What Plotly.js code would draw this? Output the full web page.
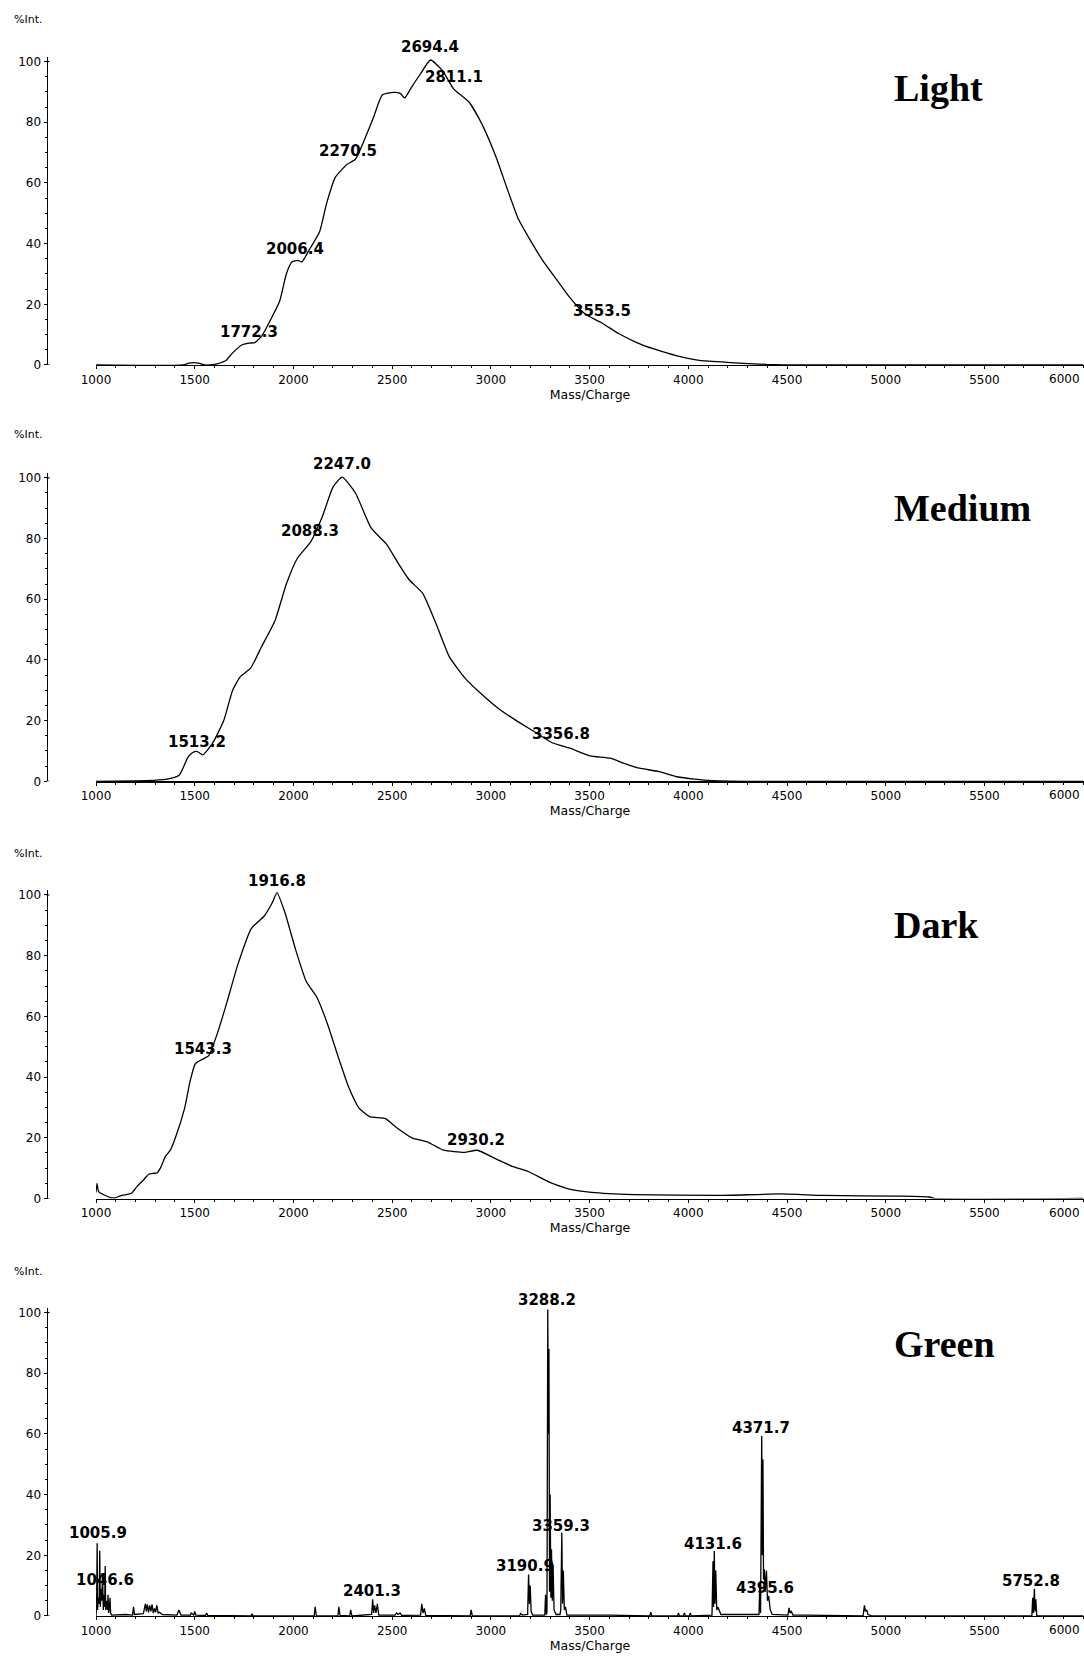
<!DOCTYPE html>
<html>
<head>
<meta charset="utf-8">
<script src="https://cdn.plot.ly/plotly-3.0.1.min.js"></script>
<style>html,body{margin:0;padding:0;background:#fff;}#chart{width:1084px;height:1656px;}</style>
</head>
<body>
<div id="chart"></div>
<script>
// ---------- DATA ----------
const panelNames = ['Light', 'Medium', 'Dark', 'Green'];
const xTickVals = [1000, 1500, 2000, 2500, 3000, 3500, 4000, 4500, 5000, 5500];
const xTickText = ['1000', '1500', '2000', '2500', '3000', '3500', '4000', '4500', '5000', '5500'];
const yTickVals = [0, 20, 40, 60, 80, 100];

const lightMass = [1000, 1440, 1470, 1495, 1520, 1550, 1575, 1613, 1658, 1692, 1738, 1775, 1805, 1840, 1885, 1930, 1964, 1993, 2020, 2043, 2077, 2133, 2167, 2212, 2269, 2314, 2371, 2405, 2450, 2507, 2541, 2563, 2597, 2642, 2694.4, 2755, 2811, 2891, 2959, 3027, 3083, 3140, 3197, 3264, 3332, 3400, 3479, 3558, 3649, 3739, 3830, 3943, 4056, 4214, 4395, 4553, 6000];
const lightInt  = [0, 0, 0.6, 0.8, 0.6, 0, 0, 0.4, 1.5, 4, 6.6, 7.2, 7.4, 9.6, 15, 21, 30, 34, 34.5, 34, 37.6, 44, 53, 61.8, 66, 67.8, 76, 81.5, 89, 89.8, 89.5, 88, 91.4, 95.8, 100.5, 97, 91, 86.5, 78.8, 68.4, 58, 48, 41.4, 34.3, 28.2, 22.2, 16.7, 14, 10.3, 7.4, 5.2, 3, 1.5, 0.8, 0.2, 0, 0];

const medMass = [1000, 1251, 1353, 1421, 1466, 1490, 1513.2, 1541, 1590, 1647, 1692, 1731, 1783, 1839, 1907, 1964, 2020, 2088.3, 2145, 2201, 2247, 2314, 2394, 2473, 2529, 2586, 2654, 2722, 2790, 2869, 2948, 3038, 3129, 3219, 3310, 3400, 3502, 3604, 3670, 3739, 3852, 3943, 4033, 4124, 4300, 6000];
const medInt  = [0, 0.2, 0.6, 2, 8, 9.5, 9.8, 8.7, 12.5, 20, 30, 34.5, 37.3, 44.4, 53, 65, 73.5, 79, 87, 97, 100.2, 95, 83.4, 78, 72, 66.4, 62, 52, 41, 34, 29, 24, 20, 16.4, 12.7, 10.9, 8.4, 7.6, 6, 4.5, 3.2, 1.5, 0.7, 0.2, 0, 0];

const darkMass = [1000, 1005, 1012, 1022, 1047, 1073, 1098, 1123, 1165, 1182, 1208, 1242, 1267, 1290, 1309, 1326, 1351, 1377, 1402, 1449, 1476, 1503, 1543.3, 1570, 1610, 1663, 1717, 1787, 1851, 1894, 1916.8, 1958, 2011, 2065, 2118, 2172, 2225, 2279, 2332, 2386, 2466, 2520, 2600, 2680, 2760, 2867, 2930.2, 3028, 3108, 3189, 3296, 3403, 3510, 3724, 4152, 4473, 4687, 5061, 5222, 5245, 6000];
const darkInt  = [2, 5, 2.5, 1.8, 1, 0.3, 0.2, 0.9, 1.4, 1.8, 4, 6.2, 8, 8.3, 8.4, 10, 13.8, 16, 20, 29.8, 38.5, 44.4, 46, 47, 53.5, 64.6, 76.8, 89, 93, 97.6, 100.8, 94, 82, 71.5, 66.4, 57.6, 47, 36.8, 29.8, 27, 26.3, 23.5, 20, 18.6, 15.9, 15.2, 15.9, 13, 10.6, 8.9, 5.4, 3, 2, 1.3, 1, 1.5, 1, 0.8, 0.5, 0, 0];

const greenMass = [
  1000, 1003, 1005.9, 1008, 1012, 1016, 1019, 1022, 1026, 1030, 1033, 1037, 1040, 1044, 1046.6, 1049, 1054, 1058, 1061, 1064, 1068, 1071, 1074, 1080,
  1150, 1185, 1190, 1195, 1240, 1250, 1255, 1260, 1266, 1272, 1278, 1284, 1290, 1296, 1302, 1308, 1315, 1322, 1335, 1410, 1420, 1430, 1478, 1482, 1495, 1500, 1506, 1555, 1560, 1566,
  1785, 1790, 1795, 2105, 2110, 2116, 2225, 2230, 2236, 2285, 2290, 2296, 2396, 2401.3, 2406, 2411, 2418, 2425, 2432, 2515, 2522, 2530, 2540, 2548, 2644, 2650, 2656, 2663, 2670, 2895, 2900, 2906,
  3145, 3150, 3160, 3186, 3190.9, 3195, 3199, 3204, 3212, 3273, 3277, 3281, 3284, 3288.2, 3291, 3294, 3297, 3300, 3304, 3307, 3311, 3315, 3320, 3330, 3350, 3354, 3359.3, 3363, 3367, 3372, 3378, 3385,
  3600, 3805, 3810, 3815, 3945, 3950, 3955, 3975, 3980, 3985, 4005, 4010, 4015, 4120, 4125, 4128, 4131.6, 4135, 4139, 4144, 4150, 4165,
  4355, 4358, 4362, 4366, 4371.7, 4375, 4378, 4381, 4385, 4390, 4395.6, 4401, 4407, 4415, 4425, 4505, 4510, 4515, 4522, 4530, 4600,
  4885, 4892, 4897, 4903, 4910, 4930, 5740, 5744, 5748, 5752.8, 5756, 5760, 5765, 6000];
const greenInt = [
  0, 3, 24, 2, 6, 4, 21.5, 3, 9, 5, 14, 2, 7, 3, 16.5, 2, 5, 2, 7, 1, 3, 6, 1, 0.3,
  0.5, 0.3, 3, 0.5, 0.8, 4, 1.5, 3.8, 1.2, 3.5, 1.5, 3.8, 1, 2.5, 1.2, 3.5, 1, 1.2, 0.5, 0.3, 2, 0.3, 0.3, 1, 0.3, 1.5, 0.3, 0.2, 1, 0.2,
  0, 0.7, 0, 0, 3, 0, 0, 3, 0.2, 0, 2, 0, 0.5, 5.5, 1, 3.5, 1, 4, 0.3, 0.3, 1, 0.5, 1, 0.2, 0.3, 4, 1, 2.5, 0.2, 0, 2, 0,
  0, 0.8, 0.3, 0.5, 13.7, 4, 10, 1.5, 0.3, 0.3, 7, 0.5, 1, 101, 60, 88, 8, 40, 6, 22, 5, 17, 2, 0.5, 0.5, 2, 27.5, 4, 15, 2, 3, 0.3,
  0.3, 0, 1.3, 0, 0, 1, 0, 0, 1, 0, 0, 1, 0, 0.3, 18, 3, 21.4, 4, 15, 2, 3, 0.5,
  0.3, 0.5, 10, 1, 59.3, 20, 51.6, 12, 15.4, 8, 15, 5, 6.6, 2, 0.5, 0.3, 2.7, 1, 1.5, 0.3, 0.3,
  0, 3.5, 1.5, 2, 0.5, 0, 0, 6, 1, 9, 1.5, 5.5, 0, 0];

// peak labels (text, label-centre mass, label-centre intensity)
const lightLabels = ['2694.4', '2811.1', '2270.5', '2006.4', '1772.3', '3553.5'];
const lightLabelX = [2691, 2814, 2274, 2006, 1776, 3565];
const lightLabelY = [104.9, 94.9, 70.5, 38.1, 10.8, 17.9];
const medLabels = ['2247.0', '2088.3', '1513.2', '3356.8'];
const medLabelX = [2248, 2085, 1512, 3355];
const medLabelY = [104.6, 82.6, 13, 15.6];
const darkLabels = ['1916.8', '1543.3', '2930.2'];
const darkLabelX = [1915, 1540, 2927];
const darkLabelY = [104.6, 49.3, 19.3];
const greenLabels = ['3288.2', '3359.3', '3190.9', '4371.7', '4131.6', '4395.6', '5752.8', '2401.3', '1005.9', '1046.6'];
const greenLabelX = [3282, 3356, 3175, 4366, 4127, 4390, 5734, 2396, 1009, 1045];
const greenLabelY = [104, 29.6, 16.5, 62, 23.6, 9.3, 11.4, 8.4, 27.3, 12];

// ---------- LAYOUT (pixel geometry) ----------
const W = 1084, H = 1656;
const PX_PER_UNIT = 3.035;
const YMAX = 101.5;
const baselinePix = [365, 781.3, 1198.5, 1616];
const namePix = [88, 508, 925, 1344];
const intPix = [19, 434, 853.5, 1271];
const xStartPix = 96, yAxisPix = 46.5;
const xEnd = 1000 + (W - xStartPix) / 98.72 * 500;

const series = [
  [lightMass, lightInt, lightLabels, lightLabelX, lightLabelY],
  [medMass, medInt, medLabels, medLabelX, medLabelY],
  [darkMass, darkInt, darkLabels, darkLabelX, darkLabelY],
  [greenMass, greenInt, greenLabels, greenLabelX, greenLabelY]
];

const tickFont = {family: 'DejaVu Sans', size: 12, color: '#000'};
const labelFont = {family: 'DejaVu Sans', size: 15, color: '#000', weight: 'bold'};
const data = [];
const layout = {
  width: W, height: H,
  margin: {l: 0, r: 0, t: 0, b: 0},
  paper_bgcolor: '#fff', plot_bgcolor: 'rgba(0,0,0,0)',
  showlegend: false, hovermode: false,
  annotations: [], shapes: []
};

series.forEach((s, k) => {
  const n = k === 0 ? '' : String(k + 1);
  const xa = 'x' + n, ya = 'y' + n;
  const smooth = k < 3;
  data.push({
    type: 'scatter', mode: 'lines', x: s[0], y: s[1],
    xaxis: xa, yaxis: ya,
    line: smooth ? {color: '#000', width: 1.3, shape: 'spline', smoothing: 0.5}
                 : {color: '#000', width: 1.3, shape: 'linear'},
    hoverinfo: 'skip'
  });
  const y0 = baselinePix[k];
  const yTop = y0 - PX_PER_UNIT * YMAX;
  const dom = [1 - y0 / H, 1 - yTop / H];
  layout['xaxis' + n] = {
    domain: [xStartPix / W, 1], range: [1000, xEnd], anchor: ya,
    tickmode: 'array', tickvals: xTickVals, ticktext: xTickText,
    ticks: 'outside', ticklen: 3, tickcolor: '#000', tickwidth: 1,
    minor: {tickmode: 'linear', tick0: 1000, dtick: 100, ticks: 'outside', ticklen: 2, tickcolor: '#000'},
    showline: true, linecolor: '#000', linewidth: 1.2,
    showgrid: false, zeroline: false, tickfont: tickFont,
    title: {text: 'Mass/Charge', font: {family: 'DejaVu Sans', size: 12.5, color: '#000'}, standoff: 4}
  };
  layout['yaxis' + n] = {
    domain: dom, range: [0, YMAX], anchor: 'free', position: yAxisPix / W,
    tickmode: 'array', tickvals: yTickVals,
    ticks: 'outside', ticklen: 3, tickcolor: '#000', tickwidth: 1,
    minor: {tickmode: 'linear', tick0: 0, dtick: 5, ticks: 'outside', ticklen: 2, tickcolor: '#000'},
    showline: true, linecolor: '#000', linewidth: 1.2,
    showgrid: false, zeroline: false, tickfont: tickFont
  };
  // "6000" label at the right edge (reference shifts it inward)
  layout.annotations.push({
    xref: 'paper', yref: 'paper', x: 1082 / W, y: 1 - (y0 + 14) / H,
    xanchor: 'right', yanchor: 'middle', showarrow: false,
    text: '6000', font: tickFont
  });
  // "%Int." axis label
  layout.annotations.push({
    xref: 'paper', yref: 'paper', x: 12 / W, y: 1 - intPix[k] / H,
    xanchor: 'left', yanchor: 'middle', showarrow: false,
    text: '%Int.', font: {family: 'DejaVu Sans', size: 11, color: '#000'}
  });
  // panel name
  layout.annotations.push({
    xref: 'paper', yref: 'paper', x: 892 / W, y: 1 - namePix[k] / H,
    xanchor: 'left', yanchor: 'middle', showarrow: false,
    text: '<b>' + panelNames[k] + '</b>',
    font: {family: 'Liberation Serif', size: 38, color: '#000'}
  });
  // peak labels (labels above the axis top are anchored at the top and shifted up)
  s[2].forEach((t, i) => {
    const yv = s[4][i];
    const ya0 = Math.min(yv, YMAX - 0.5);
    layout.annotations.push({
      xref: xa, yref: ya, x: s[3][i], y: ya0,
      yshift: (yv - ya0) * PX_PER_UNIT,
      xanchor: 'center', yanchor: 'middle', showarrow: false,
      text: '<b>' + t + '</b>', font: labelFont
    });
  });
  // small end hooks on the y axis
  [0, 100].forEach(v => {
    layout.shapes.push({
      type: 'line', xref: 'paper', yref: ya,
      x0: yAxisPix / W, x1: (yAxisPix + 3) / W, y0: v, y1: v,
      line: {color: '#000', width: 1.2}
    });
  });
});

Plotly.newPlot('chart', data, layout, {staticPlot: true, displayModeBar: false});
</script>
</body>
</html>
